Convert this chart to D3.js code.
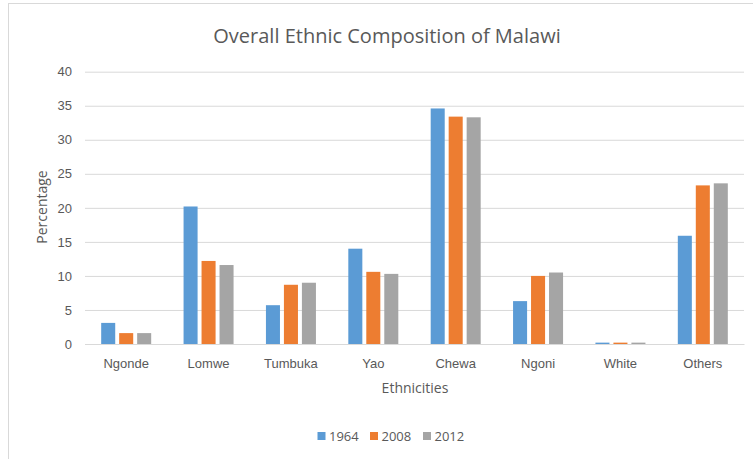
<!DOCTYPE html>
<html>
<head>
<meta charset="utf-8">
<script src="https://cdn.jsdelivr.net/npm/d3@7/dist/d3.min.js"></script>
<style>
  html, body { margin: 0; padding: 0; background: #fff; }
  svg { display: block; font-family: "Open Sans", "Noto Sans", sans-serif; }
</style>
</head>
<body>
<svg id="chart" width="753" height="459"></svg>
<script>
// Ethnic groups and census shares (%)
const categories = ["Ngonde", "Lomwe", "Tumbuka", "Yao", "Chewa", "Ngoni", "White", "Others"];
const seriesNames = ["1964", "2008", "2012"];
const values1964 = [3.1, 20.2, 5.7, 14.0, 34.6, 6.3, 0.2, 15.9];
const values2008 = [1.6, 12.2, 8.7, 10.6, 33.4, 10.0, 0.2, 23.3];
const values2012 = [1.6, 11.6, 9.0, 10.3, 33.3, 10.5, 0.2, 23.6];
const yTicks = [0, 5, 10, 15, 20, 25, 30, 35, 40];
const colors = ["#5b9bd5", "#ed7d31", "#a5a5a5"];

const seriesValues = [values1964, values2008, values2012];

const svg = d3.select("#chart");
const W = 753, H = 459;

// chart frame
svg.append("rect")
  .attr("x", 8.5).attr("y", 3.5)
  .attr("width", W + 10).attr("height", H + 10)
  .attr("fill", "#fff").attr("stroke", "#d9d9d9").attr("stroke-width", 1);

const plot = { left: 85, right: 744, top: 71.7, bottom: 344 };

const x = d3.scaleBand()
  .domain(categories)
  .range([plot.left, plot.right])
  .paddingInner(0.345)
  .paddingOuter(0.1725);

const xInner = d3.scaleBand()
  .domain(seriesNames)
  .range([0, x.bandwidth()])
  .paddingInner(0.22)
  .paddingOuter(0.11);

const y = d3.scaleLinear()
  .domain([0, 40])
  .range([plot.bottom, plot.top]);

// horizontal gridlines
const yAxis = d3.axisLeft(y)
  .tickValues(yTicks)
  .tickSize(-(plot.right - plot.left))
  .tickPadding(13)
  .tickFormat(d3.format("d"));

const gy = svg.append("g")
  .attr("transform", `translate(${plot.left},0)`)
  .call(yAxis);
gy.select(".domain").remove();
gy.selectAll(".tick line").attr("stroke", "#d9d9d9").attr("stroke-width", 1);
gy.selectAll(".tick text")
  .attr("fill", "#595959")
  .style("font-size", "13px");

// bars
const groups = svg.append("g").selectAll("g")
  .data(categories)
  .join("g")
  .attr("transform", d => `translate(${x(d)},0)`);

groups.selectAll("rect")
  .data((d, i) => seriesNames.map((s, j) => ({ series: s, value: seriesValues[j][i], idx: j })))
  .join("rect")
  .attr("x", d => xInner(d.series))
  .attr("y", d => y(d.value))
  .attr("width", xInner.bandwidth())
  .attr("height", d => y(0) - y(d.value))
  .attr("fill", d => colors[d.idx]);

// category axis
const xAxis = d3.axisBottom(x).tickSize(0).tickPadding(15);
const gx = svg.append("g")
  .attr("transform", `translate(0,${plot.bottom})`)
  .call(xAxis);
gx.select(".domain").attr("stroke", "#d9d9d9").attr("stroke-width", 1);
gx.selectAll(".tick text")
  .attr("fill", "#595959")
  .style("font-size", "13px");

// title
svg.append("text")
  .attr("x", 387).attr("y", 43)
  .attr("text-anchor", "middle")
  .attr("fill", "#595959")
  .style("font-size", "20px")
  .text("Overall Ethnic Composition of Malawi");

// axis titles
svg.append("text")
  .attr("x", 415).attr("y", 393)
  .attr("text-anchor", "middle")
  .attr("fill", "#595959")
  .style("font-size", "14px")
  .text("Ethnicities");

svg.append("text")
  .attr("transform", "translate(47,207) rotate(-90)")
  .attr("text-anchor", "middle")
  .attr("fill", "#595959")
  .style("font-size", "14px")
  .text("Percentage");

// legend
const legendX = [317.5, 370, 423];
const legend = svg.append("g").selectAll("g")
  .data(seriesNames)
  .join("g")
  .attr("transform", (d, i) => `translate(${legendX[i]},432)`);
legend.append("rect")
  .attr("width", 8).attr("height", 8)
  .attr("fill", (d, i) => colors[i]);
legend.append("text")
  .attr("x", 11.5).attr("y", 9)
  .attr("fill", "#595959")
  .style("font-size", "13px")
  .text(d => d);
</script>
</body>
</html>
